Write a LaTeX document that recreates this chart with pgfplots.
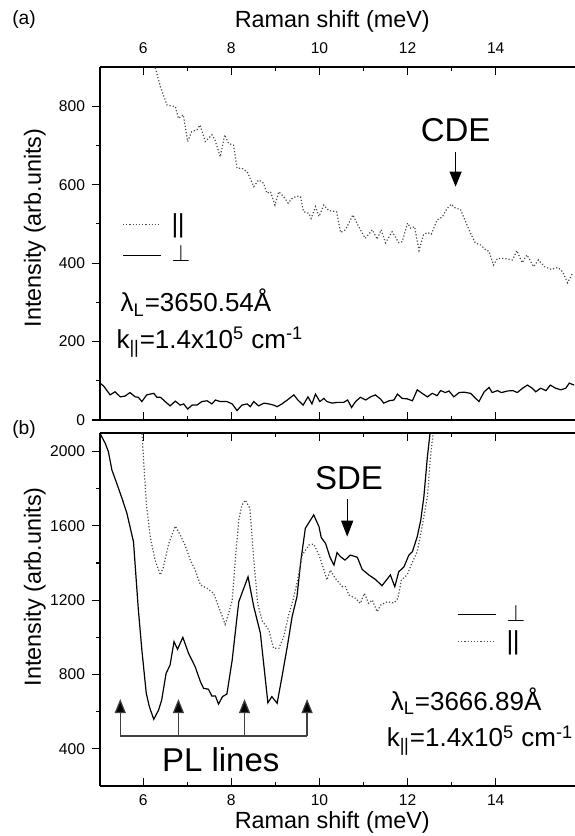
\documentclass[border=0pt]{standalone}
\usepackage{fontspec}
\setmainfont{Liberation Sans}
\usepackage{pgfplots}
\pgfplotsset{compat=1.18}
\usetikzlibrary{arrows.meta}

\newcommand{\para}{|\kern-0.02em|}

\pgfplotsset{
  panel/.style={
    scale only axis,
    width=237.5pt, height=176.5pt,
    xmin=5.02, xmax=15.8,
    xtick={6,8,...,14}, minor x tick num=1, minor y tick num=1,
    axis y line*=left,
    axis line style={-, line width=0.7pt},
    xtick align=inside, ytick align=outside,
    major tick length=4pt, minor tick length=2.2pt,
    tick style={line width=0.6pt, black},
    tick label style={font=\fontsize{7.8}{9}\selectfont},
    /pgf/number format/assume math mode=true,
    /pgf/number format/1000 sep={},
    scaled y ticks=false,
    label style={font=\fontsize{11.7}{13}\selectfont},
    clip mode=individual,
    legend cell align=left,
    legend image code/.code={\draw[##1] (0pt,0pt) -- (19pt,0pt);},
    legend style={draw=none, fill=none, inner sep=0pt, outer sep=0pt,
      font=\fontsize{13}{13}\selectfont, column sep=3pt},
  },
  par/.style={black!70, densely dotted, line width=0.6pt},
  perp/.style={black, line width=0.6pt},
}
\tikzset{plarrow/.style={black!75, line width=0.6pt, -{Triangle[length=7pt,width=5.5pt,fill=black]}}}

\begin{document}
\begin{tikzpicture}
\useasboundingbox (-50pt,-208pt) rectangle (237pt,210pt);

% ---------------- panel (a)
\begin{axis}[panel, at={(0,0)}, anchor=south west,
  ymin=0, ymax=900, ytick={0,200,...,800},
  xticklabel pos=top,
  xticklabel style={yshift=3.2pt},
  xlabel={Raman shift (meV)},
  xlabel style={at={(axis description cs:0.489,1.113)}, anchor=base},
  ylabel={Intensity (arb.units)},
  ylabel style={at={(axis description cs:-0.137,0.544)}, anchor=center},
  legend style={at={(axis cs:5.53,461)}, anchor=west, row sep=1pt},
]
\addplot[par] coordinates {
  (6.22,930) (6.27,900) (6.39,850) (6.54,803) (6.73,799) (6.80,769) (6.91,778)
  (7.01,710) (7.10,735) (7.22,740) (7.29,752) (7.41,710) (7.56,727) (7.63,714)
  (7.75,671) (7.85,727) (7.94,705) (8.05,701) (8.13,642) (8.24,642) (8.36,633)
  (8.51,595) (8.62,612) (8.73,604) (8.81,578) (8.89,582) (8.99,548) (9.08,582)
  (9.19,569) (9.29,553) (9.38,565) (9.49,571) (9.57,569) (9.64,531) (9.76,527)
  (9.81,514) (9.91,544) (9.99,519) (10.10,548) (10.21,534) (10.39,531) (10.48,478)
  (10.59,485) (10.76,523) (10.89,493) (11.04,463) (11.20,485) (11.31,461) (11.40,485)
  (11.50,452) (11.65,480) (11.80,452) (11.88,455) (12.00,502) (12.07,489) (12.16,493)
  (12.26,432) (12.36,472) (12.45,478) (12.54,474) (12.67,510) (12.79,518) (12.90,540)
  (12.99,550) (13.09,540) (13.20,537) (13.30,510) (13.43,476) (13.54,451) (13.66,446)
  (13.77,434) (13.85,430) (13.95,395) (14.04,412) (14.19,412) (14.38,408) (14.48,432)
  (14.60,401) (14.71,421) (14.86,391) (14.97,408) (15.11,391) (15.26,384) (15.41,389)
  (15.52,378) (15.63,350) (15.75,375)};
\addlegendentry{\para}
\addplot[perp] coordinates {
  (5.02,94) (5.10,87) (5.25,64) (5.36,72) (5.48,59) (5.59,61) (5.70,70) (5.82,59)
  (5.89,58) (5.97,47) (6.08,64) (6.24,68) (6.31,58) (6.39,58) (6.50,47) (6.61,36)
  (6.73,48) (6.84,38) (6.92,41) (7.01,28) (7.11,38) (7.22,38) (7.33,47) (7.45,49)
  (7.56,41) (7.64,51) (7.75,47) (7.90,47) (8.02,41) (8.13,24) (8.24,38) (8.36,41)
  (8.43,34) (8.51,47) (8.62,36) (8.74,43) (8.85,41) (8.96,38) (9.04,34) (9.15,41)
  (9.27,51) (9.42,64) (9.51,51) (9.63,38) (9.74,59) (9.83,41) (9.91,66) (10.01,47)
  (10.10,55) (10.17,47) (10.29,43) (10.40,45) (10.55,45) (10.64,51) (10.73,32) (10.82,47)
  (10.93,58) (11.05,51) (11.16,59) (11.27,64) (11.39,53) (11.46,43) (11.58,49) (11.69,51)
  (11.77,66) (11.88,55) (11.99,54) (12.11,49) (12.22,77) (12.33,68) (12.45,59) (12.56,68)
  (12.67,62) (12.75,75) (12.86,70) (12.94,74) (13.05,59) (13.17,70) (13.28,71) (13.43,68)
  (13.62,47) (13.74,72) (13.85,83) (13.92,70) (14.04,75) (14.13,70) (14.27,74) (14.39,75)
  (14.49,70) (14.61,81) (14.72,89) (14.83,81) (14.91,72) (15.02,81) (15.14,75) (15.24,89)
  (15.36,81) (15.48,77) (15.59,81) (15.67,94) (15.78,89)};
\addlegendentry{$\perp$}
\node[font=\fontsize{16.5}{18}\selectfont] at (axis cs:13.09,740) {CDE};
\draw[line width=0.6pt, -{Triangle[length=7.5pt,width=6pt]}] (axis cs:13.09,684) -- (axis cs:13.09,595);
\node[anchor=base west, inner sep=0pt, font=\fontsize{13}{15}\selectfont] at (axis cs:5.48,276) {λ\textsubscript{L}=3650.54Å};
\node[anchor=base west, inner sep=0pt, font=\fontsize{13}{15}\selectfont] at (axis cs:5.39,183) {k\textsubscript{\para}=1.4x10\textsuperscript{5} cm\textsuperscript{-1}};
\end{axis}

% ---------------- panel (b)
\begin{axis}[panel, at={(0,-6.5pt)}, anchor=north west,
  ymin=200, ymax=2100, ytick={400,800,...,2000},
  xticklabel style={yshift=-1pt},
  xlabel={Raman shift (meV)},
  xlabel style={at={(axis description cs:0.489,-0.119)}, anchor=base},
  ylabel={Intensity (arb.units)},
  ylabel style={at={(axis description cs:-0.137,0.564)}, anchor=center},
  legend style={at={(axis cs:13.13,1047)}, anchor=west, row sep=-1pt},
]
\addplot[perp] coordinates {
  (5.02,2098) (5.14,2044) (5.21,2000) (5.29,1901) (5.40,1829) (5.52,1748) (5.63,1668)
  (5.78,1515) (5.89,1150) (5.97,932) (6.07,699) (6.14,627) (6.24,559) (6.35,609)
  (6.42,663) (6.52,806) (6.61,851) (6.70,977) (6.78,936) (6.90,1000) (7.03,914)
  (7.18,842) (7.30,761) (7.37,726) (7.48,721) (7.56,684) (7.64,684) (7.71,641)
  (7.80,681) (7.90,695) (8.02,878) (8.13,1111) (8.17,1192) (8.24,1237) (8.38,1326)
  (8.51,1165) (8.66,1022) (8.83,648) (8.92,681) (9.04,645) (9.15,788) (9.27,950)
  (9.38,1111) (9.49,1219) (9.58,1416) (9.68,1587) (9.87,1659) (9.99,1596) (10.04,1538)
  (10.14,1505) (10.24,1431) (10.33,1389) (10.40,1456) (10.48,1434) (10.58,1416) (10.70,1443)
  (10.86,1431) (10.97,1366) (11.12,1336) (11.27,1312) (11.42,1278) (11.61,1336) (11.71,1273)
  (11.80,1353) (11.92,1380) (12.03,1443) (12.11,1461) (12.22,1542) (12.30,1632) (12.37,1757)
  (12.45,1972) (12.51,2098) (12.56,2250)};
\addlegendentry{$\perp$}
\addplot[par] coordinates {
  (5.95,2200) (6.00,1990) (6.07,1722) (6.16,1542) (6.27,1416) (6.39,1336) (6.46,1380)
  (6.58,1505) (6.73,1599) (6.84,1551) (6.95,1497) (7.07,1416) (7.18,1362) (7.30,1282)
  (7.45,1264) (7.60,1237) (7.71,1165) (7.80,1110) (7.86,1070) (7.94,1130) (8.02,1200)
  (8.09,1416) (8.17,1632) (8.24,1712) (8.32,1739) (8.42,1695) (8.51,1416) (8.60,1180)
  (8.70,1090) (8.85,1040) (8.96,941) (9.08,941) (9.19,1004) (9.30,1120) (9.40,1200)
  (9.49,1291) (9.61,1443) (9.76,1497) (9.87,1502) (9.99,1443) (10.08,1380) (10.17,1309)
  (10.25,1362) (10.36,1318) (10.52,1273) (10.59,1273) (10.67,1228) (10.82,1210) (10.93,1183)
  (11.02,1237) (11.12,1183) (11.20,1201) (11.31,1138) (11.39,1174) (11.54,1192) (11.69,1185)
  (11.78,1210) (11.86,1309) (11.99,1336) (12.08,1389) (12.22,1461) (12.33,1596) (12.45,1757)
  (12.52,1972) (12.58,2098) (12.62,2250)};
\addlegendentry{\para}
\node[font=\fontsize{16.5}{18}\selectfont] at (axis cs:10.67,1856) {SDE};
\draw[line width=0.6pt, -{Triangle[length=8pt,width=6pt]}] (axis cs:10.63,1743) -- (axis cs:10.63,1542);
\draw[black!75, line width=0.6pt] (axis cs:5.48,469) -- (axis cs:9.72,469);
\draw[plarrow] (axis cs:5.48,469) -- (axis cs:5.48,668);
\draw[plarrow] (axis cs:6.80,469) -- (axis cs:6.80,668);
\draw[plarrow] (axis cs:8.30,469) -- (axis cs:8.30,668);
\draw[plarrow] (axis cs:9.72,469) -- (axis cs:9.72,668);
\node[anchor=base west, inner sep=0pt, font=\fontsize{16.5}{18}\selectfont] at (axis cs:6.42,277) {PL lines};
\node[anchor=base west, inner sep=0pt, font=\fontsize{13}{15}\selectfont] at (axis cs:11.61,609) {λ\textsubscript{L}=3666.89Å};
\node[anchor=base west, inner sep=0pt, font=\fontsize{13}{15}\selectfont] at (axis cs:11.52,411) {k\textsubscript{\para}=1.4x10\textsuperscript{5} cm\textsuperscript{-1}};
\end{axis}

\node[font=\fontsize{9.6}{11}\selectfont] at (-38pt,200pt) {(a)};
\node[font=\fontsize{9.6}{11}\selectfont] at (-38pt,-5pt) {(b)};
\end{tikzpicture}
\end{document}
